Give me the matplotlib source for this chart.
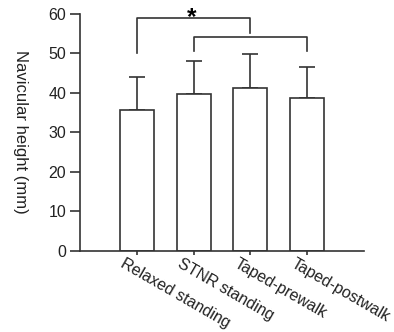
import numpy as np
import matplotlib.pyplot as plt

plt.rcParams.update({
    "font.family": ["Arial", "Liberation Sans", "DejaVu Sans"],
    "font.size": 11.5,
})

# data
conditions = ["Relaxed standing", "STNR standing", "Taped-prewalk", "Taped-postwalk"]
means = [35.7, 39.7, 41.3, 38.8]
sds = [8.3, 8.3, 8.6, 7.8]

# significance brackets: (left bar, right bar, top, left leg end, right leg end, label)
brackets = [(0, 2, 58.9, 50.0, 55.2, "*"), (1, 3, 54.1, 50.6, 50.6, "")]

line_col = "#333333"
text_col = "#222222"

fig = plt.figure(figsize=(3.94, 3.32), dpi=100)
ax = fig.add_axes([0.203, 0.245, 0.721, 0.713])

x = np.arange(1, len(conditions) + 1)
ax.bar(x, means, width=0.6, color="white", edgecolor=line_col, linewidth=1.2, zorder=2)
ax.errorbar(x, means, yerr=[np.zeros(len(sds)), sds], fmt="none", ecolor=line_col,
            elinewidth=1.2, capsize=5.5, capthick=1.2, zorder=1)

# brackets
for i, j, top, yl, yr, lab in brackets:
    ax.plot([x[i], x[i], x[j], x[j]], [yl, top, top, yr], color=line_col,
            linewidth=1.2, clip_on=False)
    if lab:
        ax.text((x[i] + x[j]) / 2 - 0.03, 57.5, lab, ha="center", va="baseline",
                fontsize=17.5, fontweight="bold", clip_on=False)

ax.set_xlim(0, 5)
ax.set_ylim(0, 60)
ax.set_yticks(np.arange(0, 61, 10))
ax.set_xticks(x)
ax.set_xticklabels([])
# slanted category labels, shifted a bit left of each tick
for xi, name in zip(x, conditions):
    ax.annotate(name, xy=(xi, 0), xycoords=("data", "axes fraction"),
                xytext=(-8, -3.6), textcoords="offset points",
                rotation=-30, ha="left", va="top", rotation_mode="anchor",
                color=text_col, annotation_clip=False)

ax.tick_params(axis="y", length=7, width=1.2, color=line_col, pad=3,
               labelcolor=text_col)
ax.tick_params(axis="x", length=3, width=1.2, color=line_col)
for s in ["top", "right"]:
    ax.spines[s].set_visible(False)
for s in ["left", "bottom"]:
    ax.spines[s].set_color(line_col)
    ax.spines[s].set_linewidth(1.2)

ax.set_ylabel("Navicular height (mm)", rotation=-90, va="center", fontsize=12,
              color=text_col)
ax.yaxis.set_label_coords(-0.21, 0.5)

fig.savefig("out.png", dpi=100)
